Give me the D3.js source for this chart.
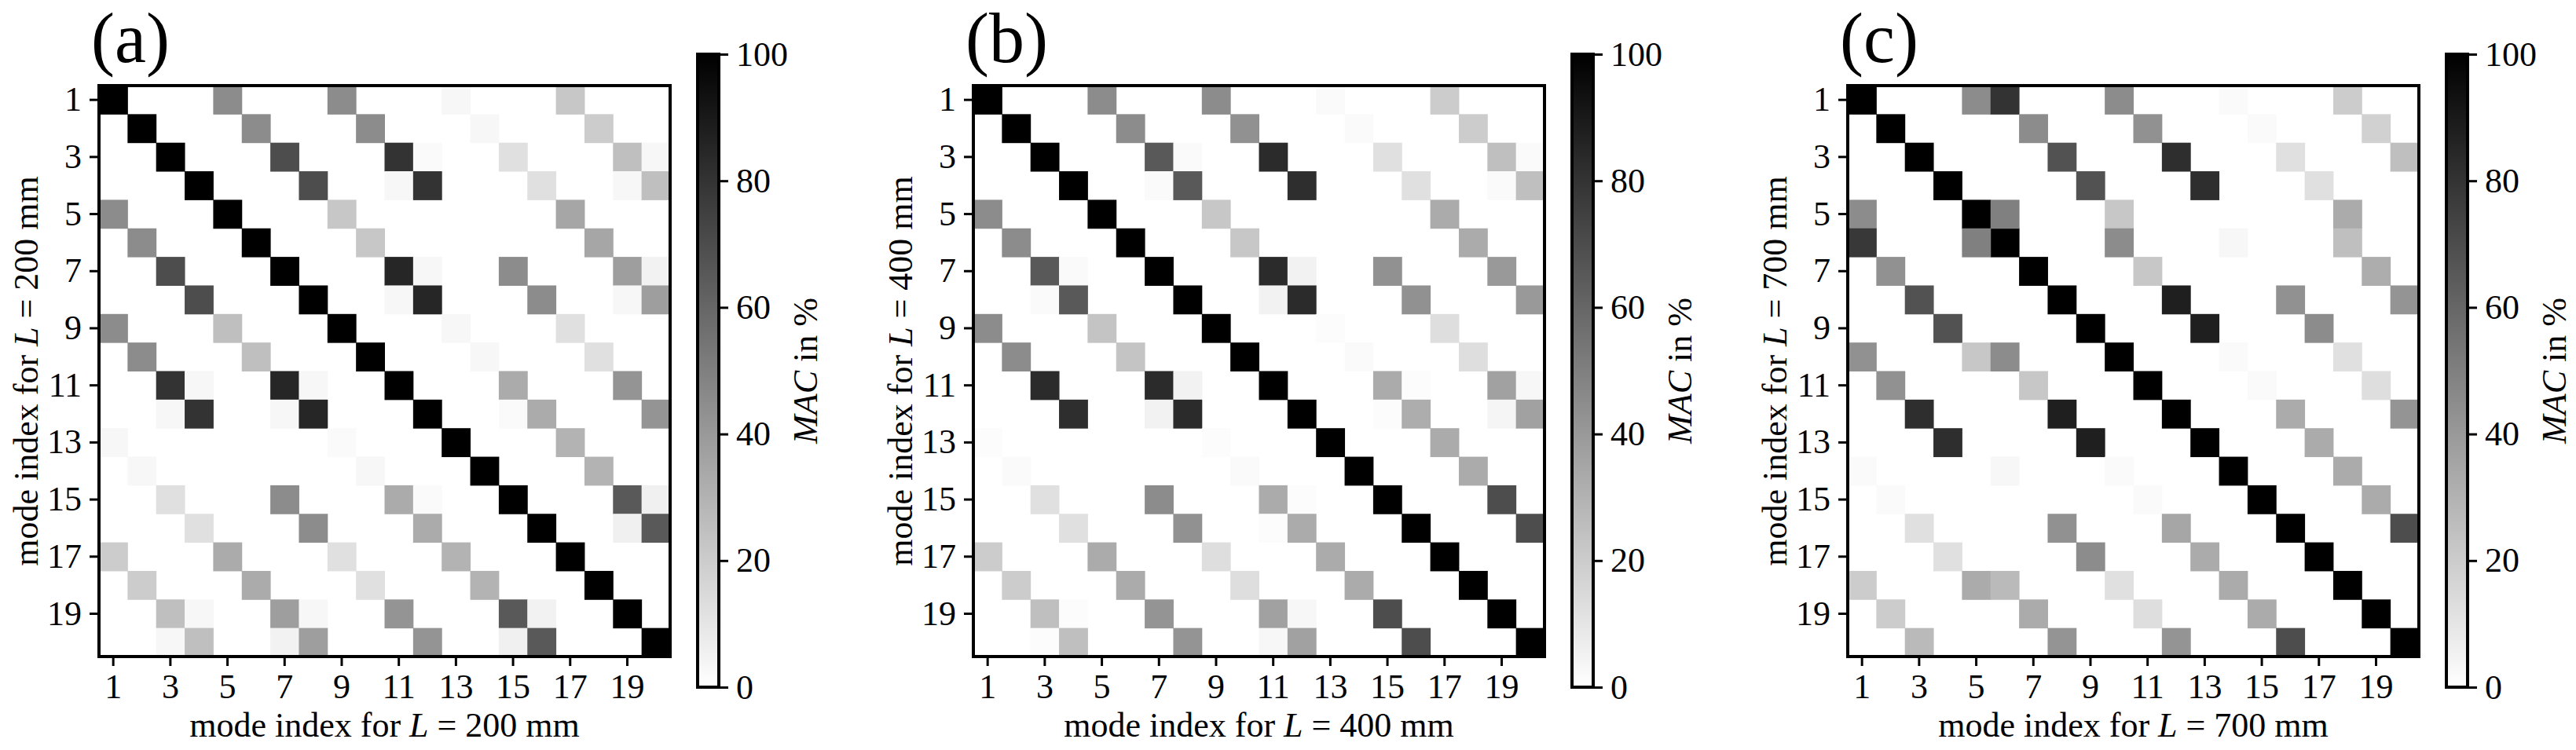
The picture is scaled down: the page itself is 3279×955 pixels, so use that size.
<!DOCTYPE html>
<html lang="en">
<head>
<meta charset="UTF-8">
<title>MAC matrices</title>
</head>
<body style="margin:0">
<svg id="chart" width="3279" height="955" font-family="Liberation Serif"></svg>
<script src="https://d3js.org/d3.v7.min.js"></script>
<script>
// mode indices shown on both axes
const modes = d3.range(1, 21);
const tickModes = [1, 3, 5, 7, 9, 11, 13, 15, 17, 19];
const cbTicks = [0, 20, 40, 60, 80, 100];
const panelLabels = ["(a)", "(b)", "(c)"];
const lengths = [200, 400, 700];

// diagonal MAC values (%)
const diagA = [100,100,100,100,100,100,100,100,100,100,100,100,100,100,100,100,100,100,100,100];
const diagB = [100,100,100,100,100,100,100,100,100,100,100,100,100,100,100,100,100,100,100,100];
const diagC = [100,100,100,100,100,100,100,100,100,100,100,100,100,100,100,100,100,100,100,100];

// off-diagonal MAC entries: [row, col, value %]
const offA = [
  [1,5,45],[1,9,45],[1,13,3],[1,17,22],
  [2,6,45],[2,10,45],[2,14,3],[2,18,20],
  [3,7,70],[3,11,80],[3,12,2],[3,15,12],[3,19,25],[3,20,3],
  [4,8,70],[4,11,3],[4,12,80],[4,16,12],[4,19,3],[4,20,25],
  [5,1,45],[5,9,22],[5,17,35],
  [6,2,45],[6,10,22],[6,18,35],
  [7,3,70],[7,11,85],[7,12,3],[7,15,45],[7,19,38],[7,20,5],
  [8,4,70],[8,11,3],[8,12,85],[8,16,45],[8,19,3],[8,20,38],
  [9,1,45],[9,5,25],[9,13,3],[9,17,12],
  [10,2,45],[10,6,25],[10,14,3],[10,18,12],
  [11,3,80],[11,4,3],[11,7,85],[11,8,3],[11,15,33],[11,19,42],
  [12,3,3],[12,4,80],[12,7,3],[12,8,85],[12,15,2],[12,16,33],[12,20,42],
  [13,1,3],[13,9,2],[13,17,30],
  [14,2,3],[14,10,3],[14,18,30],
  [15,3,12],[15,7,45],[15,11,33],[15,12,2],[15,19,65],[15,20,6],
  [16,4,12],[16,8,45],[16,12,33],[16,19,6],[16,20,65],
  [17,1,20],[17,5,33],[17,9,12],[17,13,30],
  [18,2,20],[18,6,33],[18,10,12],[18,14,30],
  [19,3,25],[19,4,3],[19,7,38],[19,8,3],[19,11,42],[19,15,65],[19,16,5],
  [20,3,3],[20,4,25],[20,7,5],[20,8,38],[20,12,42],[20,15,6],[20,16,65]
];
const offB = [
  [1,5,45],[1,9,45],[1,13,2],[1,17,20],
  [2,6,45],[2,10,43],[2,14,2],[2,18,20],
  [3,7,65],[3,8,2],[3,11,83],[3,15,12],[3,19,25],[3,20,2],
  [4,7,2],[4,8,65],[4,12,82],[4,16,12],[4,19,2],[4,20,25],
  [5,1,45],[5,9,22],[5,17,33],
  [6,2,45],[6,10,22],[6,18,33],
  [7,3,65],[7,4,2],[7,11,83],[7,12,5],[7,15,43],[7,19,40],
  [8,3,2],[8,4,65],[8,11,5],[8,12,83],[8,16,43],[8,20,40],
  [9,1,45],[9,5,23],[9,13,1],[9,17,13],
  [10,2,45],[10,6,23],[10,14,2],[10,18,13],
  [11,3,83],[11,7,83],[11,8,5],[11,15,33],[11,16,1],[11,19,37],[11,20,3],
  [12,4,82],[12,7,5],[12,8,83],[12,15,1],[12,16,32],[12,19,4],[12,20,37],
  [13,1,1],[13,9,1],[13,17,33],
  [14,2,2],[14,10,2],[14,18,33],
  [15,3,12],[15,7,45],[15,11,33],[15,12,1],[15,19,70],
  [16,4,12],[16,8,43],[16,11,1],[16,12,33],[16,20,70],
  [17,1,20],[17,5,33],[17,9,13],[17,13,33],
  [18,2,20],[18,6,33],[18,10,13],[18,14,33],
  [19,3,25],[19,4,1],[19,7,42],[19,11,37],[19,12,3],[19,15,70],
  [20,3,1],[20,4,25],[20,8,42],[20,11,3],[20,12,37],[20,16,70]
];
const offC = [
  [1,5,45],[1,6,80],[1,10,45],[1,14,2],[1,18,20],
  [2,7,45],[2,11,43],[2,15,2],[2,19,18],
  [3,8,68],[3,12,82],[3,16,12],[3,20,25],
  [4,9,68],[4,13,82],[4,17,12],
  [5,1,45],[5,6,50],[5,10,22],[5,18,33],
  [6,1,78],[6,5,50],[6,10,45],[6,14,3],[6,18,25],
  [7,2,43],[7,11,22],[7,19,32],
  [8,3,68],[8,12,88],[8,16,43],[8,20,42],
  [9,4,68],[9,13,88],[9,17,45],
  [10,1,43],[10,5,22],[10,6,45],[10,14,2],[10,18,12],
  [11,2,43],[11,7,22],[11,15,2],[11,19,13],
  [12,3,82],[12,8,88],[12,16,33],[12,20,42],
  [13,4,82],[13,9,88],[13,17,33],
  [14,1,2],[14,6,3],[14,10,2],[14,18,33],
  [15,2,2],[15,11,2],[15,19,33],
  [16,3,12],[16,8,43],[16,12,35],[16,20,70],
  [17,4,12],[17,9,45],[17,13,33],
  [18,1,20],[18,5,33],[18,6,27],[18,10,12],[18,14,33],
  [19,2,20],[19,7,33],[19,11,13],[19,15,33],
  [20,3,27],[20,8,42],[20,12,42],[20,16,70]
];

const panels = [[diagA, offA], [diagB, offB], [diagC, offC]];

const FONT = "Liberation Serif";
const svg = d3.select("#chart");
const size = 727, matTop = 109, left0 = 126, step = 1113;
const cbW = 27, cbTop = 69, cbBottom = 875, cbGap = 35;
const grey = v => { const c = Math.round(255 * (1 - v / 100)); return `rgb(${c},${c},${c})`; };

panels.forEach(([diag, off], p) => {
  const left = left0 + p * step;
  const g = svg.append("g").attr("transform", `translate(${left},${matTop})`);
  const x = d3.scaleBand().domain(modes).range([0, size]);
  const y = d3.scaleBand().domain(modes).range([0, size]);

  const cells = diag.map((v, i) => [i + 1, i + 1, v]).concat(off);
  g.selectAll("rect.cell").data(cells).join("rect")
    .attr("class", "cell")
    .attr("x", d => x(d[1])).attr("y", d => y(d[0]))
    .attr("width", x.bandwidth() + 0.5).attr("height", y.bandwidth() + 0.5)
    .attr("fill", d => grey(d[2]));

  g.append("rect").attr("width", size).attr("height", size)
    .attr("fill", "none").attr("stroke", "#000").attr("stroke-width", 4);

  const xAxis = g.append("g").attr("transform", `translate(0,${size})`)
    .call(d3.axisBottom(x).tickValues(tickModes).tickSize(12).tickPadding(10));
  const yAxis = g.append("g")
    .call(d3.axisLeft(y).tickValues(tickModes).tickSize(12).tickPadding(10));
  [xAxis, yAxis].forEach(a => {
    a.attr("font-family", FONT).attr("font-size", 44);
    a.select(".domain").remove();
    a.selectAll("line").attr("stroke-width", 3);
  });

  const xl = g.append("text").attr("x", size / 2).attr("y", size + 102)
    .attr("text-anchor", "middle").attr("font-size", 44).attr("font-family", FONT);
  xl.append("tspan").text("mode index for ");
  xl.append("tspan").attr("font-style", "italic").text("L");
  xl.append("tspan").text(` = ${lengths[p]} mm`);

  const yl = g.append("text").attr("transform", `translate(-78,${size / 2}) rotate(-90)`)
    .attr("text-anchor", "middle").attr("font-size", 44).attr("font-family", FONT);
  yl.append("tspan").text("mode index for ");
  yl.append("tspan").attr("font-style", "italic").text("L");
  yl.append("tspan").text(` = ${lengths[p]} mm`);

  g.append("text").attr("x", -10).attr("y", -30).attr("font-size", 90)
    .attr("font-family", FONT).text(panelLabels[p]);

  // colorbar
  const cbx = left + size + cbGap;
  const gid = "cbgrad" + p;
  const grad = svg.append("defs").append("linearGradient").attr("id", gid)
    .attr("x1", 0).attr("y1", 1).attr("x2", 0).attr("y2", 0);
  cbTicks.forEach(t => grad.append("stop").attr("offset", t / 100).attr("stop-color", grey(t)));
  const cb = svg.append("g").attr("transform", `translate(${cbx},0)`);
  cb.append("rect").attr("y", cbTop).attr("width", cbW).attr("height", cbBottom - cbTop)
    .attr("fill", `url(#${gid})`).attr("stroke", "#000").attr("stroke-width", 4);
  const cs = d3.scaleLinear().domain([0, 100]).range([cbBottom, cbTop]);
  const cAxis = cb.append("g").attr("transform", `translate(${cbW},0)`)
    .call(d3.axisRight(cs).tickValues(cbTicks).tickSize(12).tickPadding(10));
  cAxis.attr("font-family", FONT).attr("font-size", 44);
  cAxis.select(".domain").remove();
  cAxis.selectAll("line").attr("stroke-width", 3);
  const cl = cb.append("text")
    .attr("transform", `translate(${cbW + 125},${(cbTop + cbBottom) / 2}) rotate(-90)`)
    .attr("text-anchor", "middle").attr("font-size", 44).attr("font-family", FONT);
  cl.append("tspan").attr("font-style", "italic").text("MAC");
  cl.append("tspan").text(" in %");
});
</script>
</body>
</html>
